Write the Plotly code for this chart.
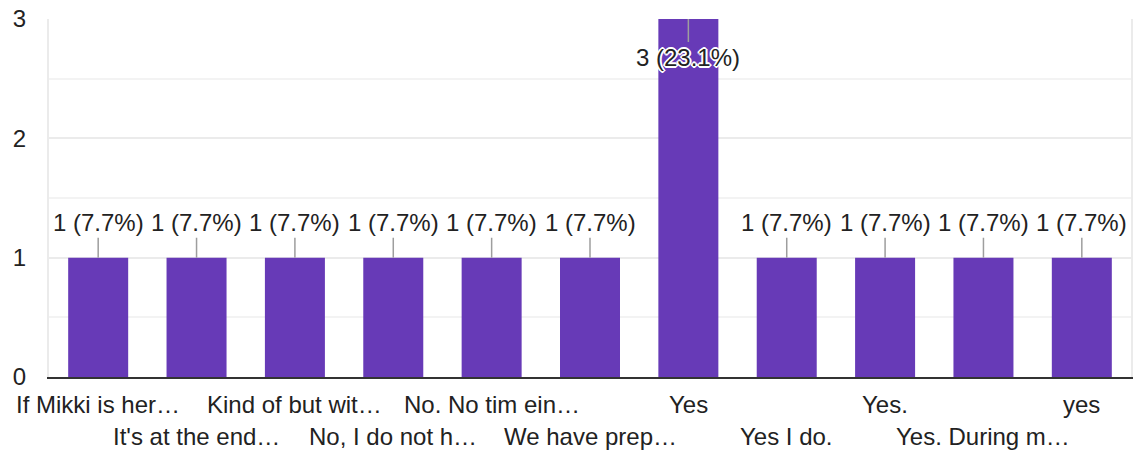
import plotly.graph_objects as go

categories = [
    "If Mikki is her…", "It's at the end…", "Kind of but wit…", "No, I do not h…",
    "No. No tim ein…", "We have prep…", "Yes", "Yes I do.", "Yes.",
    "Yes. During m…", "yes",
]
counts = [1, 1, 1, 1, 1, 1, 3, 1, 1, 1, 1]
total = sum(counts)
y_ticks = [0, 1, 2, 3]

FONT = "Liberation Sans, Arial, sans-serif"
FS = 24
xs = list(range(len(categories)))

fig = go.Figure()
fig.add_trace(go.Bar(
    x=xs, y=counts, marker=dict(color="#673ab7", line=dict(width=0)),
    width=0.61, hoverinfo="skip",
))

halo = ("white 1px 1px 0px, white -1px -1px 0px, white 1px -1px 0px, white -1px 1px 0px, "
        "white 2px 0px 0px, white -2px 0px 0px, white 0px 2px 0px, white 0px -2px 0px")

ymax = max(y_ticks)
annotations = []
for i, (c, v) in enumerate(zip(categories, counts)):
    label = f"{v} ({v / total * 100:.1f}%)"
    inside = v >= ymax
    annotations.append(dict(
        x=i, y=v, xref="x", yref="y", text=label, showarrow=True,
        arrowhead=0, arrowwidth=1.5, arrowcolor="#9e9e9e",
        ax=0, ay=38 if inside else -35,
        font=dict(family=FONT, size=FS, color="#222222",
                  shadow=halo if inside else "none"),
    ))
    row = i % 2
    annotations.append(dict(
        x=i, y=0, xref="x", yref="paper", text=c, showarrow=False,
        yanchor="middle", xanchor="center", yshift=-27 if row == 0 else -59,
        font=dict(family=FONT, size=FS, color="#222222"),
    ))

fig.update_layout(
    width=1135, height=454,
    margin=dict(l=49, r=2, t=19, b=77),
    paper_bgcolor="white", plot_bgcolor="white",
    showlegend=False,
    annotations=annotations,
    xaxis=dict(
        range=[-0.5, len(categories) - 0.5], showticklabels=False, ticks="",
        showgrid=False, zeroline=False, showline=True, linecolor="#333333",
        linewidth=2, fixedrange=True,
    ),
    yaxis=dict(
        range=[0, ymax], tickvals=y_ticks, ticktext=[str(t) for t in y_ticks],
        showgrid=True, gridcolor="#ebebeb", gridwidth=2,
        minor=dict(dtick=0.5, showgrid=True, gridcolor="#f3f3f3", gridwidth=1.5),
        zeroline=False, showline=True, mirror=True, linecolor="#ebebeb",
        linewidth=2, ticks="", ticklabelstandoff=16,
        tickfont=dict(family=FONT, size=FS, color="#222222"), fixedrange=True,
    ),
)

fig.write_html(
    "out.html", config={"displayModeBar": False},
    post_script="document.body.style.margin='0';document.body.style.padding='0';document.body.style.overflow='hidden';",
)
